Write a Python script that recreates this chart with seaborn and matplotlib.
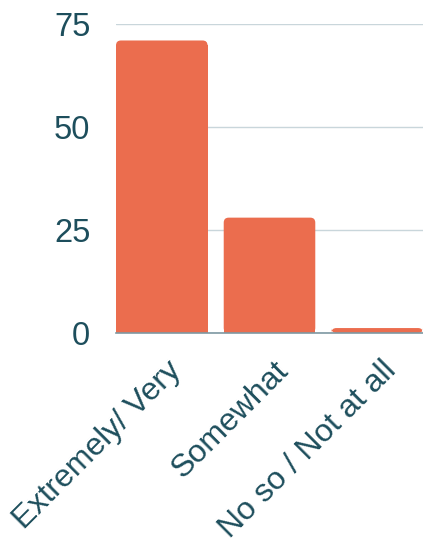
import matplotlib
matplotlib.use("Agg")
import matplotlib.pyplot as plt
import matplotlib.transforms as mtransforms
import seaborn as sns
import pandas as pd
from matplotlib.patches import FancyBboxPatch

categories = ["Extremely/ Very", "Somewhat", "No so / Not at all"]
values = [71, 28, 1.2]
yticks = [0, 25, 50, 75]

BAR = "#EB6D4E"
TXT = "#1D4E5C"
GRID = "#C9D6DB"
BASE = "#7E98A2"

sns.set_theme(style="white")
plt.rcParams["font.family"] = ["Liberation Sans", "DejaVu Sans"]

df = pd.DataFrame({"cat": categories, "val": values})

fig = plt.figure(figsize=(4.23, 5.42), dpi=100)
ax = fig.add_axes([116/423, 1-333/542, 1-116/423, (333-24)/542])

sns.barplot(data=df, x="cat", y="val", color=BAR, width=0.85, saturation=1, ax=ax, zorder=2)

# replace bars with top-rounded versions
x_per_px = 2.85 / 308
y_per_px = 75 / 309
r_px = 5
for p in list(ax.patches):
    x, y0 = p.get_x(), p.get_y()
    w, h = p.get_width(), p.get_height()
    p.set_visible(False)
    r = min(r_px, h / y_per_px) * x_per_px
    fb = FancyBboxPatch((x, y0), w, h,
                        boxstyle=f"round,pad=0,rounding_size={r}",
                        mutation_aspect=y_per_px / x_per_px,
                        facecolor=BAR, edgecolor="none", zorder=2)
    ax.add_patch(fb)
    sq_h = h - r_px * y_per_px
    if sq_h > 0:
        ax.add_patch(plt.Rectangle((x, y0), w, sq_h, facecolor=BAR,
                                   edgecolor="none", zorder=2))

ax.set_xlim(-0.425, 2.425)
ax.set_ylim(0, 75)
ax.set_yticks(yticks)
ax.set_yticklabels([str(t) for t in yticks])
ax.yaxis.grid(True, color=GRID, linewidth=1, zorder=0)
ax.set_axisbelow(True)
for s in ["top", "right", "left"]:
    ax.spines[s].set_visible(False)
ax.spines["bottom"].set_color(BASE)
ax.spines["bottom"].set_linewidth(1.2)
ax.spines["bottom"].set_zorder(3)

ax.set_xlabel("")
ax.set_ylabel("")
ax.tick_params(axis="y", length=0, pad=18.5, labelsize=23.5, labelcolor=TXT)
ax.tick_params(axis="x", length=0, pad=16, labelsize=23, labelcolor=TXT)
shift = mtransforms.ScaledTranslation(4/100, 0, fig.dpi_scale_trans)
for lbl in ax.get_xticklabels():
    lbl.set_rotation(45)
    lbl.set_ha("right")
    lbl.set_va("top")
    lbl.set_rotation_mode("anchor")
    lbl.set_transform(lbl.get_transform() + shift)

fig.savefig("out.png", dpi=100)
